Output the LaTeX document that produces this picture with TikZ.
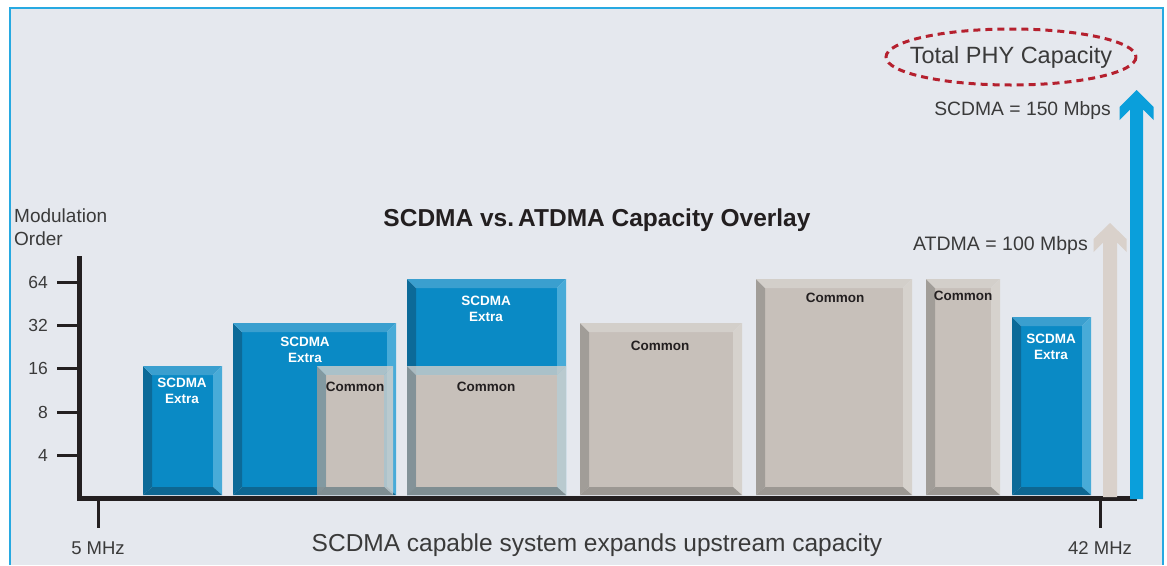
\documentclass[tikz,border=0pt]{standalone}
\usepackage{fontspec}
\setmainfont{Liberation Sans}
\definecolor{bgc}{HTML}{E5E8EE}
\definecolor{framec}{HTML}{27A9E1}
\definecolor{bfill}{HTML}{0A8AC5}
\definecolor{bleft}{HTML}{0C6A98}
\definecolor{btop}{HTML}{3A9FCF}
\definecolor{bright}{HTML}{48ABD8}
\definecolor{bbottom}{HTML}{0E6792}
\definecolor{gfill}{HTML}{C7C0BA}
\definecolor{gleft}{HTML}{A19D98}
\definecolor{gtop}{HTML}{D3CFCA}
\definecolor{gright}{HTML}{D6D2CD}
\definecolor{gbottom}{HTML}{9C9893}
\definecolor{txt}{HTML}{3A3A3A}
\definecolor{axisc}{HTML}{231F20}
\definecolor{arrowblue}{HTML}{0A9FDB}
\definecolor{arrowbeige}{HTML}{D9D1CB}
\definecolor{ellc}{HTML}{B5202E}
% #1 x1, #2 y1, #3 x2, #4 y2, #5 colour prefix, #6 bevel opacity
\newcommand{\bevbox}[6]{%
  \fill[#5fill] (#1+9,#2+9) rectangle (#3-9,#4-8);
  \begin{scope}[opacity=#6]
    \fill[#5left] (#1,#2) -- (#1+9,#2+9) -- (#1+9,#4-8) -- (#1,#4) -- cycle;
    \fill[#5top] (#1,#2) -- (#3,#2) -- (#3-9,#2+9) -- (#1+9,#2+9) -- cycle;
    \fill[#5right] (#3,#2) -- (#3,#4) -- (#3-9,#4-8) -- (#3-9,#2+9) -- cycle;
    \fill[#5bottom] (#1,#4) -- (#1+9,#4-8) -- (#3-9,#4-8) -- (#3,#4) -- cycle;
  \end{scope}}
\tikzset{
  lbl/.style={text=txt, font=\fontsize{17.5}{21}\selectfont, inner sep=0pt},
  wlbl/.style={text=white, font=\bfseries\fontsize{13.5}{16.5}\selectfont, align=center, inner sep=0pt},
  clbl/.style={text=axisc, font=\bfseries\fontsize{13.5}{16.5}\selectfont, inner sep=0pt},
  axisline/.style={draw=axisc, line width=5pt, line join=miter},
  tick/.style={draw=axisc, line width=3pt},
}
\begin{document}
\begin{tikzpicture}[x=1pt,y=-1pt]
\useasboundingbox (0,0) rectangle (1167,565);
\fill[white] (0,0) rectangle (1167,565);
\fill[bgc] (10,8) rectangle (1163,565);
\draw[framec, line width=1.6pt] (10,565) -- (10,8) -- (1163,8) -- (1163,565);

% boxes
\bevbox{143}{366}{222}{495}{b}{1}
\bevbox{233}{323}{396}{495}{b}{1}
\bevbox{317}{366}{393}{495}{g}{0.8}
\bevbox{407}{279}{566}{495}{b}{1}
\bevbox{407}{366}{566}{495}{g}{0.8}
\bevbox{580}{323}{742}{495}{g}{1}
\bevbox{756}{279}{912}{495}{g}{1}
\bevbox{926}{279}{1000}{495}{g}{1}
\bevbox{1012}{317}{1091}{495}{b}{1}

\node[wlbl] (e1) at (182,391) {SCDMA\\Extra};
\node[wlbl] (e2) at (305,350) {SCDMA\\Extra};
\node[wlbl] (e3) at (486,309) {SCDMA\\Extra};
\node[wlbl] (e4) at (1051,347) {SCDMA\\Extra};
\node[clbl] (c1) at (355,387) {Common};
\node[clbl] (c2) at (486,387) {Common};
\node[clbl] (c3) at (660,346) {Common};
\node[clbl] (c4) at (835,298) {Common};
\node[clbl] (c5) at (963,296) {Common};

% axes
\draw[axisline] (79,256) -- (79,498) -- (1137,498);
\foreach \yy in {282,325,368,412,455} \draw[tick] (57,\yy) -- (79,\yy);
\draw[tick] (98,498) -- (98,528);
\draw[tick] (1100,498) -- (1100,528);

\node[lbl, anchor=east] (t64) at (48,282) {64};
\node[lbl, anchor=east] (t32) at (48,325) {32};
\node[lbl, anchor=east] (t16) at (48,368) {16};
\node[lbl, anchor=east] (t8) at (48,412) {8};
\node[lbl, anchor=east] (t4) at (48,455) {4};
\node[lbl, anchor=west, align=left, font=\fontsize{19}{23}\selectfont] (mo) at (14,227) {Modulation\\Order};

% arrows
\fill[arrowbeige] (1103,497) -- (1103,242.5) -- (1093.5,252) -- (1093.5,239) -- (1110,223)
  -- (1126.5,239) -- (1126.5,252) -- (1117,242.5) -- (1117,497) -- cycle;
\fill[arrowblue] (1130,499) -- (1130,109.5) -- (1119.5,120) -- (1119.5,107) -- (1136.5,90)
  -- (1153.5,107) -- (1153.5,120) -- (1143,109.5) -- (1143,499) -- cycle;

% texts
\node[text=axisc, font=\bfseries\fontsize{24.5}{28}\selectfont] (title) at (597,220) {SCDMA vs.\,ATDMA Capacity Overlay};
\node[lbl, font=\fontsize{24.5}{28}\selectfont] (bottom) at (597,545) {SCDMA capable system expands upstream capacity};
\node[lbl, font=\fontsize{18.5}{22}\selectfont] (f5) at (98,548) {5 MHz};
\node[lbl, font=\fontsize{18.5}{22}\selectfont] (f42) at (1100,548) {42 MHz};
\node[lbl, anchor=east, font=\fontsize{19.5}{22}\selectfont] (atdma) at (1088,245) {ATDMA = 100 Mbps};
\node[lbl, anchor=east, font=\fontsize{19.3}{22}\selectfont] (scdma) at (1111,111) {SCDMA = 150 Mbps};
\node[lbl, font=\fontsize{23.5}{28}\selectfont] (total) at (1011,57) {Total PHY Capacity};
\draw[ellc, line width=3pt, dash pattern=on 7pt off 5pt] (total.center) ellipse (125 and 28);
\end{tikzpicture}
\end{document}
